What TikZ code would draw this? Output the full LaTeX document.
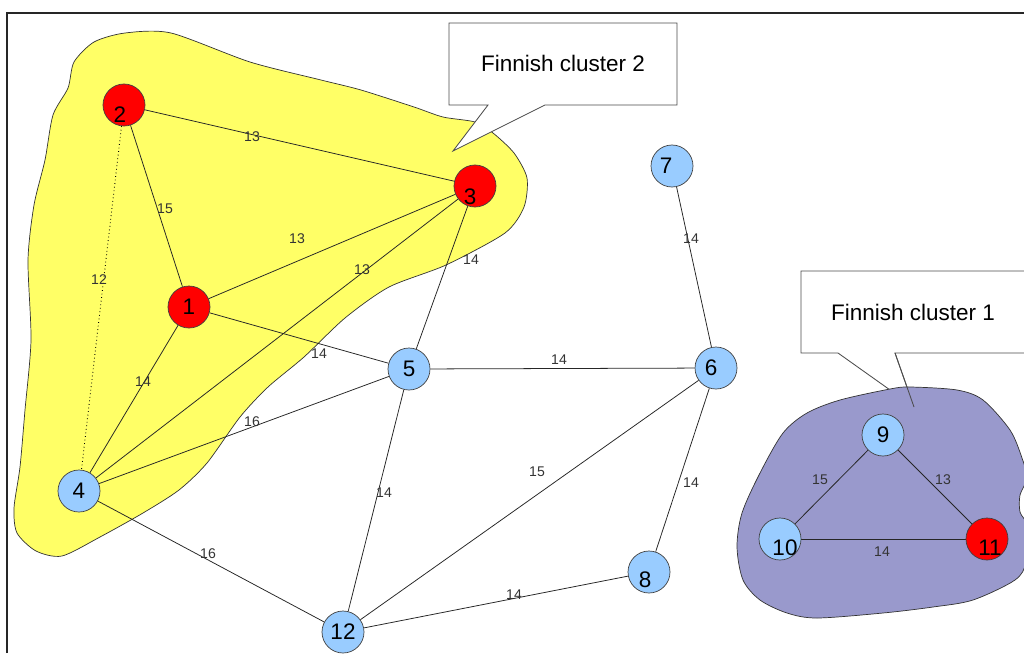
\documentclass[tikz,border=0pt]{standalone}
\usepackage{fontspec}
\setmainfont{Liberation Sans}

\definecolor{clusteryellow}{RGB}{255,255,102}
\definecolor{clusterblue}{RGB}{153,153,204}
\definecolor{nodeblue}{RGB}{153,204,255}

\pgfdeclarelayer{blobs}
\pgfdeclarelayer{edges}
\pgfsetlayers{blobs,edges,main}

\begin{document}
\begin{tikzpicture}[x=0.025cm, y=-0.025cm,
    vert/.style={circle, draw=black!75, line width=0.5pt, minimum size=1.05cm, inner sep=0pt, font=\fontsize{16}{18}\selectfont},
    finn/.style={vert, fill=red},
    other/.style={vert, fill=nodeblue},
    num/.style={font=\fontsize{16}{18}\selectfont, inner sep=0pt},
    weight/.style={font=\fontsize{10}{12}\selectfont, text=black!80, inner sep=1pt},
    link/.style={draw=black!85, line width=0.55pt},
    bubble/.style={draw=black!70, line width=0.6pt}]
    \useasboundingbox (0,0) rectangle (1024,653);

    % frame
    \draw[black!85, line width=0.8pt] (7,653) -- (7,13) -- (1024,13);

    % vertices
    \node[finn] (n1) at (189,307) {1};
    \node[finn, label={[num, shift={(-4,10)}]center:2}] (n2) at (124,105) {};
    \node[finn, label={[num, shift={(-5,11)}]center:3}] (n3) at (475,186) {};
    \node[other] (n4) at (79,491) {4};
    \node[other] (n5) at (409,369) {5};
    \node[other, label={[num, shift={(-5,0)}]center:6}] (n6) at (716,368) {};
    \node[other, label={[num, shift={(-6,0)}]center:7}] (n7) at (672,166) {};
    \node[other, label={[num, shift={(-4,8)}]center:8}] (n8) at (649,572) {};
    \node[other] (n9) at (883,435) {9};
    \node[other, label={[num, shift={(5,9)}]center:10}] (n10) at (780,539) {};
    \node[finn, label={[num, shift={(3,9)}]center:11}] (n11) at (987,539) {};
    \node[other] (n12) at (343,632) {12};

    % clusters and their call-outs
    \begin{pgfonlayer}{blobs}
        \filldraw[fill=clusteryellow, draw=black!80, line width=0.5pt]
            plot[smooth cycle, tension=0.45] coordinates {
                (171,33) (250,62) (321,80) (361,90) (414,107) (443,117) (475,122)
                (493,133) (514,153) (527,178) (524,207) (505,233) (446,265)
                (389,287) (345,318) (304,357) (268,387) (240,417) (207,463)
                (179,490) (143,513) (100,537) (62,556) (36,551) (17,533)
                (14,508) (20,467) (25,410) (31,340) (28,260) (34,205)
                (45,160) (53,115) (68,88) (74,62) (94,42) (125,33)};
        \filldraw[bubble, fill=white]
            (449,23) -- (677,23) -- (677,105) -- (545,105) -- (453,151) -- (488,105) -- (449,105) -- cycle;
        \node[num] (c2) at (563,63) {Finnish cluster 2};

        \filldraw[bubble, fill=white]
            (801,271) -- (1030,271) -- (1030,353) -- (895,353) -- (914,407) -- (838,353) -- (801,353) -- cycle;
        \node[num] (c1) at (913,312) {Finnish cluster 1};

        \filldraw[fill=clusterblue, draw=black!80, line width=0.5pt]
            plot[smooth cycle, tension=0.5] coordinates {
                (910,387) (957,390) (983,400) (1010,430) (1022,458) (1027,478)
                (1020,495) (1020,512) (1027,526) (1026,562) (1015,580)
                (973,600) (933,607) (883,613) (817,618) (787,613) (760,600)
                (743,580) (737,547) (742,513) (760,473) (783,433) (807,413)
                (840,400) (890,389)};
        \draw[bubble] (895,353) -- (914,407);
    \end{pgfonlayer}

    % edges
    \begin{pgfonlayer}{edges}
        \draw[link] (n2) -- (n3);
        \draw[link] (n2) -- (n1);
        \draw[link, dotted, line width=0.65pt, draw=black] (n2) -- (n4);
        \draw[link] (n1) -- (n3);
        \draw[link] (n4) -- (n3);
        \draw[link] (n1) -- (n4);
        \draw[link] (n1) -- (n5);
        \draw[link] (n4) -- (n5);
        \draw[link] (n3) -- (n5);
        \draw[link] (n4) -- (n12);
        \draw[link] (n5) -- (n12);
        \draw[link] (n5) -- (n6);
        \draw[link] (n7) -- (n6);
        \draw[link] (n6) -- (n12);
        \draw[link] (n6) -- (n8);
        \draw[link] (n12) -- (n8);
        \draw[link] (n9) -- (n10);
        \draw[link] (n9) -- (n11);
        \draw[link] (n10) -- (n11);
    \end{pgfonlayer}

    % weights
    \node[weight] (w23) at (252,137) {13};
    \node[weight] (w21) at (165,209) {15};
    \node[weight] (w24) at (99,280) {12};
    \node[weight] (w13) at (297,239) {13};
    \node[weight] (w43) at (362,270) {13};
    \node[weight] (w35) at (471,260) {14};
    \node[weight] (w14) at (143,382) {14};
    \node[weight] (w15) at (319,354) {14};
    \node[weight] (w45) at (252,422) {16};
    \node[weight] (w412) at (208,554) {16};
    \node[weight] (w512) at (384,493) {14};
    \node[weight] (w56) at (559,360) {14};
    \node[weight] (w76) at (691,239) {14};
    \node[weight] (w612) at (537,472) {15};
    \node[weight] (w68) at (691,483) {14};
    \node[weight] (w128) at (514,595) {14};
    \node[weight] (w910) at (820,480) {15};
    \node[weight] (w911) at (943,480) {13};
    \node[weight] (w1011) at (882,552) {14};
\end{tikzpicture}
\end{document}
